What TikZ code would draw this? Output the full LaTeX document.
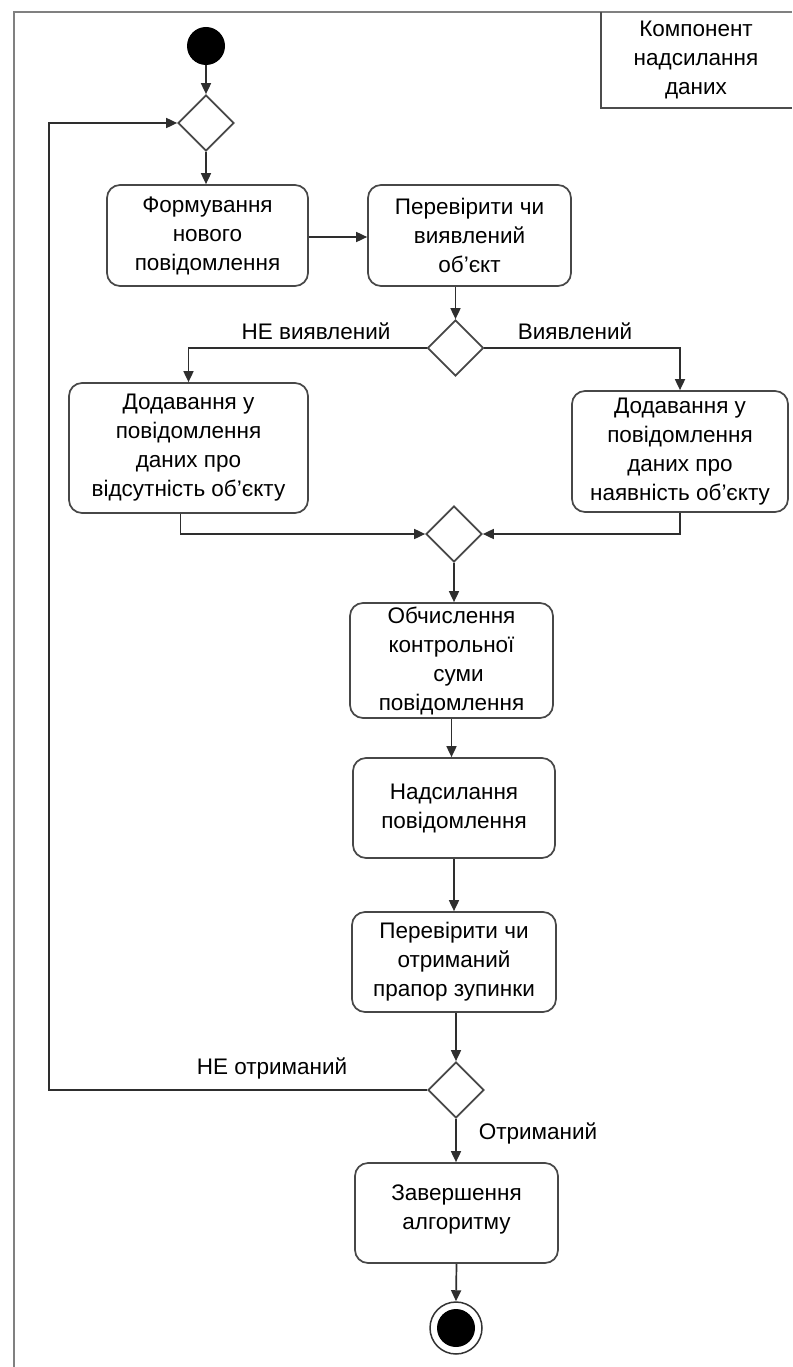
\documentclass[tikz,border=0pt]{standalone}
\usepackage{fontspec}
\setmainfont{Liberation Sans}
\usetikzlibrary{shapes.geometric,arrows.meta}
\newcommand\diagfont{\fontsize{22.5}{29}\selectfont}
\tikzset{
  act/.style={draw=black!72, line width=1.7pt, rounded corners=13pt, align=center, font=\diagfont, inner sep=0pt, fill=white},
  dec/.style={draw=black!72, line width=1.7pt, diamond, inner sep=0pt, minimum width=56pt, minimum height=56pt, fill=white},
  conn/.style={draw=black!82, line width=1.7pt, -{Triangle[length=11pt,width=10pt]}},
  lbl/.style={font=\diagfont, inner sep=0pt},
  frameline/.style={draw=black!50, line width=2.5pt},
  compline/.style={draw=black!70, line width=1.7pt}
}
\begin{document}
\begin{tikzpicture}[x=1pt,y=-1pt]
\useasboundingbox[fill=white] (0,0) rectangle (792,1367);
% outer frame
\draw[frameline] (14,1367) -- (14,12) -- (792,12);
% component box
\draw[compline] (601,12) -- (601,108) -- (792,108);
\node[lbl, align=center] (comp) at (696,60) {Компонент\\надсилання\\даних};

% nodes
\node[circle, fill=black, minimum size=38pt, inner sep=0pt] (start) at (206,46) {};
\node[dec] (d1) at (206,123) {};
\node[act, minimum width=201pt, minimum height=101pt] (b1) at (207.5,235.5) {Формування\\нового\\повідомлення};
\node[act, minimum width=203pt, minimum height=101pt] (b2) at (469.5,235.5) {Перевірити чи\\виявлений\\об’єкт};
\node[dec] (d2) at (455.5,348) {};
\node[act, minimum width=239pt, minimum height=130pt] (b3) at (188.5,448) {Додавання у\\повідомлення\\даних про\\відсутність об’єкту};
\node[act, minimum width=216pt, minimum height=121pt] (b4) at (680,451.5) {Додавання у\\повідомлення\\даних про\\наявність об’єкту};
\node[dec] (d3) at (454,534) {};
\node[act, minimum width=203pt, minimum height=115pt] (b5) at (451.5,660.5) {Обчислення\\контрольної\\\hspace*{14pt}суми\\повідомлення};
\node[act, minimum width=202pt, minimum height=100pt] (b6) at (454,808) {Надсилання\\повідомлення};
\node[act, minimum width=204pt, minimum height=100pt] (b7) at (454,962) {Перевірити чи\\отриманий\\прапор зупинки};
\node[dec] (d4) at (456,1090) {};
\node[act, minimum width=203pt, minimum height=100pt] (b8) at (456.5,1213) {Завершення\\алгоритму\\[-17pt]\mbox{}};
\node[circle, draw=black!80, line width=1.5pt, fill=white, minimum size=52pt, inner sep=0pt] (end) at (456,1328) {};
\node[circle, fill=black, minimum size=38pt, inner sep=0pt] (endi) at (end.center) {};

% labels
\node[lbl] (l1) at (316,331) {НЕ виявлений};
\node[lbl] (l2) at (575,331) {Виявлений};
\node[lbl] (l3) at (272,1068) {НЕ отриманий};
\node[lbl] (l4) at (538,1133) {Отриманий};

% connectors
\coordinate (lp) at (49,600);
\draw[conn] (start) -- (d1);
\draw[conn] (d1.south) -- (d1.south |- b1.north);
\draw[conn] (b1.east |- 0,237) -- (b2.west |- 0,237);
\draw[conn] (d2 |- b2.south) -- (d2.north);
\draw[conn] (d2.west) -| (b3.north);
\draw[conn] (d2.east) -| (b4.north);
\draw[conn] ([xshift=-8pt]b3.south) |- (d3.west);
\draw[conn] (b4.south) |- (d3.east);
\draw[conn] (d3.south) -- (d3.south |- b5.north);
\draw[conn] (b5.south) -- (b5.south |- b6.north);
\draw[conn] (b6.south) -- (b6.south |- b7.north);
\draw[conn] (d4 |- b7.south) -- (d4.north);
\draw[conn] (d4.west) -| (lp) |- (d1.west);
\draw[conn] (d4.south) -- (d4.south |- b8.north);
\draw[conn] (b8.south) -- (end.north);
\end{tikzpicture}
\end{document}
